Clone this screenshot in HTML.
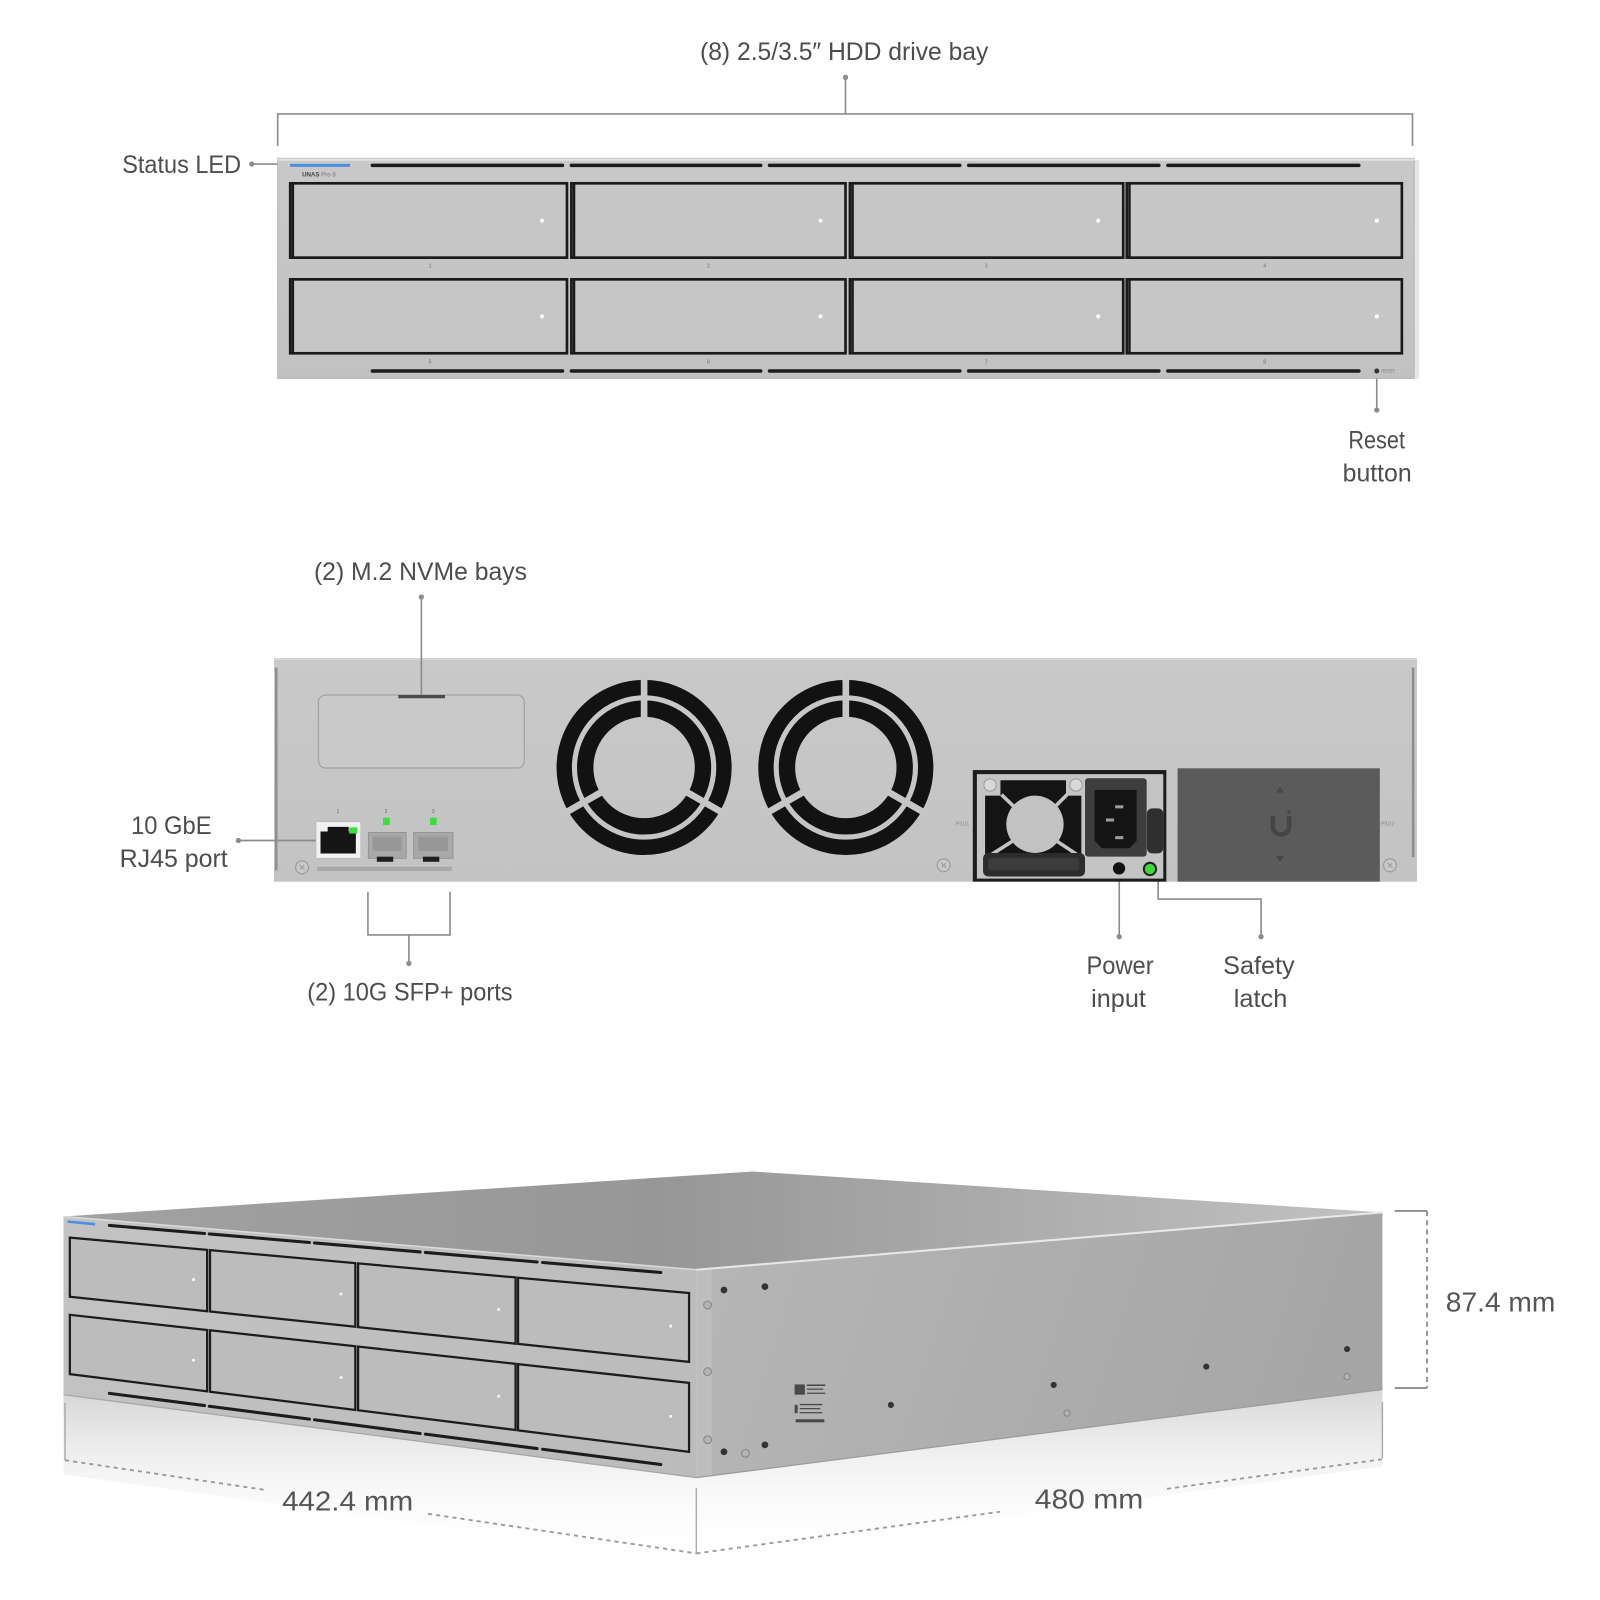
<!DOCTYPE html>
<html><head><meta charset="utf-8"><style>html,body{margin:0;padding:0;background:#fff}svg{display:block}
.l{font-family:"Liberation Sans",sans-serif;font-size:24px;fill:#4d4d4d;text-anchor:middle}
.d{font-family:"Liberation Sans",sans-serif;font-size:27px;fill:#555}
.t{font-family:"Liberation Sans",sans-serif;fill:#6a6a6a;text-anchor:middle}
</style></head><body>
<svg width="1600" height="1600" viewBox="0 0 1562.5 1562.5" xmlns="http://www.w3.org/2000/svg">
<defs>
<linearGradient id="fp" x1="0" y1="0" x2="0" y2="1"><stop offset="0" stop-color="#c9c9c9"/><stop offset="1" stop-color="#c1c1c1"/></linearGradient>
<linearGradient id="rp" x1="0" y1="0" x2="0" y2="1"><stop offset="0" stop-color="#c9c9c9"/><stop offset="1" stop-color="#c3c3c3"/></linearGradient>
<linearGradient id="top3" gradientUnits="userSpaceOnUse" x1="62" y1="1190" x2="1350" y2="1190"><stop offset="0" stop-color="#a2a2a2"/><stop offset="0.45" stop-color="#979797"/><stop offset="1" stop-color="#c2c2c2"/></linearGradient>
<linearGradient id="side3" gradientUnits="userSpaceOnUse" x1="680" y1="1200" x2="1350" y2="1420"><stop offset="0" stop-color="#b6b6b6"/><stop offset="1" stop-color="#a4a4a4"/></linearGradient>
<linearGradient id="front3" gradientUnits="userSpaceOnUse" x1="62" y1="1190" x2="680" y2="1440"><stop offset="0" stop-color="#c3c3c3"/><stop offset="1" stop-color="#bbbbbb"/></linearGradient>
<linearGradient id="refl" x1="0" y1="0" x2="0" y2="1"><stop offset="0" stop-color="#d2d2d2"/><stop offset="1" stop-color="#ffffff" stop-opacity="0"/></linearGradient>
<g id="fan">
 <circle r="78" fill="none" stroke="#121212" stroke-width="15"/>
 <circle r="57.5" fill="none" stroke="#121212" stroke-width="16"/>
 <g stroke="#c6c6c6" stroke-width="6.5">
  <line x1="0" y1="-48" x2="0" y2="-92"/>
  <line x1="41.6" y1="24" x2="80" y2="46"/>
  <line x1="-41.6" y1="24" x2="-80" y2="46"/>
 </g>
</g>
<g id="scr"><circle r="6.3" fill="#c9c9c9" stroke="#9d9d9d" stroke-width="1.2"/><path d="M-2.5,-2.5 L2.5,2.5 M-2,2 L2,-2" stroke="#999" stroke-width="1"/></g>
</defs>

<!-- ============ TOP: FRONT PANEL ============ -->
<text class="l" x="824.4" y="58.5" textLength="281.6" lengthAdjust="spacingAndGlyphs">(8) 2.5/3.5″ HDD drive bay</text>
<g stroke="#8c8c8c" stroke-width="1.6" fill="none">
 <line x1="825.7" y1="75.5" x2="825.7" y2="111.3"/>
 <polyline points="271.2,142.6 271.2,111.3 1379.4,111.3 1379.4,142.6"/>
 <line x1="245.9" y1="160.2" x2="271.2" y2="160.2"/>
 <line x1="1344.5" y1="365" x2="1344.5" y2="400.4"/>
</g>
<g fill="#8c8c8c"><circle cx="825.7" cy="75.5" r="2.6"/><circle cx="245.9" cy="160.2" r="2.6"/><circle cx="1344.5" cy="400.4" r="2.6"/></g>
<text class="l" x="177.4" y="169" textLength="116" lengthAdjust="spacingAndGlyphs">Status LED</text>
<text class="l" x="1344.4" y="437.8" textLength="55.3" lengthAdjust="spacingAndGlyphs">Reset</text>
<text class="l" x="1344.9" y="470.4" textLength="67.4" lengthAdjust="spacingAndGlyphs">button</text>

<rect x="1381" y="156" width="5" height="214" fill="#e6e6e6"/>
<rect x="271.2" y="154.6" width="1109.8" height="214.9" fill="url(#fp)" stroke="#b3b3b3" stroke-width="1"/>
<rect x="271.2" y="154.6" width="1109.8" height="2.5" fill="#dedede"/>
<line x1="283.3" y1="161.5" x2="341.8" y2="161.5" stroke="#4a90e2" stroke-width="3"/>
<text x="295" y="172.5" font-family="Liberation Sans,sans-serif" font-size="6" font-weight="bold" fill="#444">UNAS <tspan font-weight="normal" fill="#777">Pro 8</tspan></text>
<g stroke="#1c1c1c" stroke-width="3.4" stroke-linecap="round">
 <line x1="363.6" y1="161.5" x2="549.3" y2="161.5"/><line x1="558" y1="161.5" x2="742.9" y2="161.5"/><line x1="751.5" y1="161.5" x2="937.3" y2="161.5"/><line x1="946" y1="161.5" x2="1131.7" y2="161.5"/><line x1="1140.5" y1="161.5" x2="1327" y2="161.5"/>
 <line x1="363.6" y1="362.3" x2="549.3" y2="362.3"/><line x1="558" y1="362.3" x2="742.9" y2="362.3"/><line x1="751.5" y1="362.3" x2="937.3" y2="362.3"/><line x1="946" y1="362.3" x2="1131.7" y2="362.3"/><line x1="1140.5" y1="362.3" x2="1327" y2="362.3"/>
</g>
<g fill="#c6c6c6" stroke="#1a1a1a" stroke-width="2.6">
 <rect x="283.4" y="179" width="270.3" height="72.6"/><rect x="558" y="179" width="267.7" height="72.6"/><rect x="830" y="179" width="266.9" height="72.6"/><rect x="1100.4" y="179" width="268.6" height="72.6"/>
 <rect x="283.4" y="272.8" width="270.3" height="72.2"/><rect x="558" y="272.8" width="267.7" height="72.2"/><rect x="830" y="272.8" width="266.9" height="72.2"/><rect x="1100.4" y="272.8" width="268.6" height="72.2"/>
</g>
<g stroke="#1a1a1a" stroke-width="2.4">
 <line x1="286" y1="179" x2="286" y2="251.6"/><line x1="560.6" y1="179" x2="560.6" y2="251.6"/><line x1="832.6" y1="179" x2="832.6" y2="251.6"/><line x1="1103" y1="179" x2="1103" y2="251.6"/>
 <line x1="286" y1="272.8" x2="286" y2="345"/><line x1="560.6" y1="272.8" x2="560.6" y2="345"/><line x1="832.6" y1="272.8" x2="832.6" y2="345"/><line x1="1103" y1="272.8" x2="1103" y2="345"/>
</g>
<g fill="#fff"><circle cx="529.3" cy="215.5" r="2"/><circle cx="801.3" cy="215.5" r="2"/><circle cx="1072.5" cy="215.5" r="2"/><circle cx="1344.6" cy="215.5" r="2"/>
<circle cx="529.3" cy="309" r="2"/><circle cx="801.3" cy="309" r="2"/><circle cx="1072.5" cy="309" r="2"/><circle cx="1344.6" cy="309" r="2"/></g>
<g class="t" font-size="5"><text x="420" y="261">1</text><text x="692" y="261">2</text><text x="963" y="261">3</text><text x="1235" y="261">4</text>
<text x="420" y="355">5</text><text x="692" y="355">6</text><text x="963" y="355">7</text><text x="1235" y="355">8</text></g>
<circle cx="1344.5" cy="362.3" r="2.4" fill="#333"/>
<text x="1349" y="364" font-family="Liberation Sans,sans-serif" font-size="4" fill="#777">RESET</text>

<!-- ============ MIDDLE: REAR PANEL ============ -->
<text class="l" x="410.6" y="566.5" textLength="208" lengthAdjust="spacingAndGlyphs">(2) M.2 NVMe bays</text>
<rect x="267.6" y="642.6" width="1116.2" height="218.4" fill="url(#rp)"/>
<rect x="267.6" y="642.6" width="1116.2" height="2" fill="#d6d6d6"/>
<line x1="269.8" y1="652" x2="269.8" y2="850" stroke="#8d8d8d" stroke-width="2.4"/>
<line x1="1380" y1="652" x2="1380" y2="837" stroke="#8d8d8d" stroke-width="2.4"/>
<rect x="311" y="678.7" width="201" height="71.3" rx="7" fill="#c9c9c9" stroke="#a3a3a3" stroke-width="1.2"/>
<rect x="389" y="678.7" width="45.6" height="3.2" fill="#4a4a4a"/>
<g stroke="#8c8c8c" stroke-width="1.6" fill="none">
 <line x1="411.5" y1="583" x2="411.5" y2="678.7"/>
 <line x1="232.8" y1="820.8" x2="308.6" y2="820.8"/>
 <polyline points="359.3,870.8 359.3,913 439.5,913 439.5,870.8"/>
 <line x1="399.3" y1="913" x2="399.3" y2="940.8"/>
 <line x1="1093" y1="858" x2="1093" y2="914.7"/>
 <polyline points="1131,854.5 1131,878 1231.5,878 1231.5,914.7"/>
</g>
<g fill="#8c8c8c"><circle cx="411.5" cy="583" r="2.6"/><circle cx="232.8" cy="820.8" r="2.6"/><circle cx="399.3" cy="940.8" r="2.6"/><circle cx="1093" cy="914.7" r="2.6"/><circle cx="1231.5" cy="914.7" r="2.6"/></g>

<use href="#fan" x="629" y="749.5"/>
<use href="#fan" x="826" y="749.5"/>

<!-- ports -->
<g class="t" font-size="5"><text x="330" y="794">1</text><text x="377" y="794">2</text><text x="423" y="794">3</text></g>
<rect x="308.6" y="802.4" width="43.7" height="35.8" fill="#f2f2f2" stroke="#bdbdbd" stroke-width="0.8"/>
<path d="M313,833.5 V812 H320 V807.5 H340.5 V812 H347.5 V833.5 Z" fill="#151515"/>
<rect x="341" y="808" width="8" height="6" fill="#39e03c"/>
<rect x="359.7" y="813" width="37" height="25.2" fill="#a8a8a8" stroke="#8f8f8f" stroke-width="0.8"/>
<rect x="404" y="813" width="38.4" height="25.2" fill="#a8a8a8" stroke="#8f8f8f" stroke-width="0.8"/>
<rect x="364" y="817" width="28" height="14" fill="#979797"/><rect x="408.5" y="817" width="29" height="14" fill="#979797"/>
<rect x="368" y="836.6" width="16" height="5" fill="#1e1e1e"/><rect x="413" y="836.6" width="16" height="5" fill="#1e1e1e"/>
<rect x="374" y="798.5" width="6.6" height="7.2" fill="#39e03c"/><rect x="420" y="798.5" width="6.4" height="7.2" fill="#39e03c"/>
<rect x="309.6" y="846.4" width="131.6" height="4.2" fill="#a9a9a9"/>
<use href="#scr" x="295" y="847"/><use href="#scr" x="921.6" y="845"/><use href="#scr" x="1357.4" y="845"/>

<!-- PSU -->
<text x="940" y="806" font-family="Liberation Sans,sans-serif" font-size="5" fill="#888" text-anchor="middle">PSU1</text>
<text x="1355" y="806" font-family="Liberation Sans,sans-serif" font-size="5" fill="#888" text-anchor="middle">PSU2</text>
<rect x="950" y="752" width="189" height="109" fill="#1d1d1d"/>
<rect x="954" y="756" width="182" height="102" fill="#c4c4c4"/>
<rect x="962" y="762" width="94" height="80" rx="9" fill="#141414"/>
<rect x="958" y="758" width="19" height="19" fill="#c4c4c4"/>
<rect x="1041" y="758" width="19" height="19" fill="#c4c4c4"/>
<g stroke="#c4c4c4" stroke-width="3.5"><line x1="1010.7" y1="807.3" x2="978" y2="776"/><line x1="1010.7" y1="807.3" x2="1042" y2="776"/><line x1="1010.7" y1="807.3" x2="966" y2="836"/><line x1="1010.7" y1="807.3" x2="1054" y2="836"/></g>
<circle cx="1010.7" cy="805" r="28" fill="#c2c2c2"/>
<circle cx="966.8" cy="766.6" r="6" fill="#d8d8d8" stroke="#9a9a9a"/><circle cx="1050.8" cy="766.6" r="6" fill="#d8d8d8" stroke="#9a9a9a"/>
<rect x="960" y="833" width="99.6" height="23" rx="5" fill="#2c2c2c"/><rect x="965" y="838" width="89" height="12" rx="3" fill="#3c3c3c"/>
<rect x="1059.6" y="760" width="60.2" height="76.6" rx="3" fill="#3d3d3d"/>
<path d="M1069,771.5 H1110 V821 L1103,828.4 H1076 L1069,821 Z" fill="#141414"/>
<g fill="#9c9c9c"><rect x="1089" y="786.4" width="8" height="3"/><rect x="1080" y="799.3" width="8" height="3"/><rect x="1089" y="816.5" width="8" height="3"/></g>
<rect x="1120" y="789.4" width="16" height="44" rx="5" fill="#2f2f2f"/>
<circle cx="1092.8" cy="848" r="6" fill="#111"/>
<circle cx="1123" cy="848.6" r="7" fill="#222"/><circle cx="1123" cy="848.6" r="5" fill="#3bd93b"/>
<rect x="1150" y="750.3" width="197.5" height="110.7" fill="#5b5b5b"/>
<path d="M1243,797 v10 a8,8 0 0 0 16,0 v-10" stroke="#454545" stroke-width="4.5" fill="none"/>
<circle cx="1259" cy="793" r="1.8" fill="#454545"/>
<path d="M1246,774 L1254,774 L1250,768 Z M1246,836 L1254,836 L1250,842 Z" fill="#474747"/>

<text class="l" x="167.3" y="814.4" textLength="78.6" lengthAdjust="spacingAndGlyphs">10 GbE</text>
<text class="l" x="169.6" y="846.7" textLength="105.6" lengthAdjust="spacingAndGlyphs">RJ45 port</text>
<text class="l" x="400.3" y="977" textLength="200.5" lengthAdjust="spacingAndGlyphs">(2) 10G SFP+ ports</text>
<text class="l" x="1093.8" y="951" textLength="65.6" lengthAdjust="spacingAndGlyphs">Power</text>
<text class="l" x="1092.3" y="983.6" textLength="53.4" lengthAdjust="spacingAndGlyphs">input</text>
<text class="l" x="1229.4" y="951" textLength="69.8" lengthAdjust="spacingAndGlyphs">Safety</text>
<text class="l" x="1231" y="983.6" textLength="52.3" lengthAdjust="spacingAndGlyphs">latch</text>

<!-- ============ BOTTOM: 3D VIEW ============ -->
<polygon points="62,1362 680,1443 680,1525 62,1440" fill="url(#refl)" opacity="0.9"/>
<polygon points="680,1443 1350,1357 1350,1432 680,1522" fill="url(#refl)" opacity="0.9"/>
<polygon points="62,1188 735,1144 1350,1184 680,1240" fill="url(#top3)"/>
<polygon points="680,1240 1350,1184 1350,1357 680,1443" fill="url(#side3)"/>
<polygon points="680,1240 695,1239 695,1441 680,1443" fill="#bebebe"/>
<polygon points="62,1188 680,1240 680,1443 62,1362" fill="url(#front3)"/>
<line x1="62" y1="1188" x2="680" y2="1240" stroke="#dadada" stroke-width="1.5"/>
<line x1="680" y1="1240" x2="1350" y2="1184" stroke="#e8e8e8" stroke-width="2"/>
<line x1="62" y1="1362" x2="680" y2="1443" stroke="#a5a5a5" stroke-width="1.2"/>
<line x1="680" y1="1443" x2="1350" y2="1357" stroke="#9c9c9c" stroke-width="1.2"/>
<line x1="66" y1="1193" x2="93" y2="1195.5" stroke="#4a90e2" stroke-width="2.5"/>
<g stroke="#1c1c1c" stroke-width="3" stroke-linecap="round">
 <line x1="106.8" y1="1196.7" x2="199.7" y2="1204.6"/><line x1="204.3" y1="1205" x2="302.2" y2="1213.4"/><line x1="307.1" y1="1213.8" x2="410.3" y2="1222.6"/><line x1="415.4" y1="1223.1" x2="524.5" y2="1232.4"/><line x1="529.9" y1="1232.9" x2="645.3" y2="1242.7"/>
 <line x1="106.8" y1="1360.7" x2="199.7" y2="1372.6"/><line x1="204.3" y1="1373.3" x2="302.2" y2="1385.9"/><line x1="307.1" y1="1386.5" x2="410.3" y2="1399.9"/><line x1="415.4" y1="1400.5" x2="524.5" y2="1414.6"/><line x1="529.9" y1="1415.3" x2="645.3" y2="1430.2"/>
</g>
<g fill="#bcbcbc" stroke="#1c1c1c" stroke-width="2.2" stroke-linejoin="miter">
 <polygon points="68.2,1208.6 202.3,1220.6 202.3,1280.5 68.2,1266.4"/>
 <polygon points="205.1,1220.8 347,1233.5 347,1295.7 205.1,1280.8"/>
 <polygon points="349.7,1233.8 503.5,1247.5 503.5,1312.2 349.7,1296"/>
 <polygon points="505.9,1247.8 672.9,1262.7 672.9,1330 505.9,1312.4"/>
 <polygon points="68.2,1284 202.3,1298.8 202.3,1358.7 68.2,1341.9"/>
 <polygon points="205.1,1299.1 347,1314.7 347,1376.9 205.1,1359.1"/>
 <polygon points="349.7,1315 503.5,1331.9 503.5,1396.5 349.7,1377.2"/>
 <polygon points="505.9,1332.1 672.9,1350.5 672.9,1417.8 505.9,1396.8"/>
</g>
<g fill="#f4f4f4"><circle cx="189" cy="1249.6" r="1.5"/><circle cx="333" cy="1263.6" r="1.5"/><circle cx="487" cy="1278.7" r="1.5"/><circle cx="655" cy="1295" r="1.5"/>
<circle cx="189" cy="1328.3" r="1.5"/><circle cx="333" cy="1345.2" r="1.5"/><circle cx="487" cy="1363.5" r="1.5"/><circle cx="655" cy="1383.2" r="1.5"/></g>
<!-- side face details -->
<g fill="#333"><circle cx="707" cy="1259.8" r="3.3"/><circle cx="747" cy="1256.5" r="3.3"/><circle cx="707" cy="1417.7" r="3.3"/><circle cx="747" cy="1411" r="3.3"/>
<circle cx="870" cy="1372" r="3"/><circle cx="1029" cy="1352.5" r="3"/><circle cx="1178" cy="1334.6" r="3"/><circle cx="1315.5" cy="1317.5" r="3"/></g>
<g fill="#b3b3b3" stroke="#808080" stroke-width="0.9"><circle cx="691" cy="1274.4" r="3.8"/><circle cx="691" cy="1339.5" r="3.8"/><circle cx="691" cy="1406" r="3.8"/><circle cx="728" cy="1419.3" r="3.8"/><circle cx="1042" cy="1380" r="3"/><circle cx="1315.5" cy="1344.4" r="3"/></g>
<g fill="#4a4a4a"><rect x="776" y="1352" width="10" height="10"/><rect x="788" y="1352" width="18" height="1.5"/><rect x="788" y="1356" width="16" height="1.2"/><rect x="788" y="1360" width="18" height="1.2"/>
<rect x="776" y="1372" width="3" height="8"/><rect x="781" y="1371" width="22" height="1.3"/><rect x="781" y="1375" width="20" height="1.2"/><rect x="781" y="1379" width="22" height="1.2"/>
<rect x="777" y="1386" width="28" height="3"/></g>

<!-- dimensions -->
<g stroke="#8e8e8e" stroke-width="1.8" fill="none">
 <line x1="1362" y1="1182.6" x2="1393.6" y2="1182.6"/><line x1="1362" y1="1355.5" x2="1393.6" y2="1355.5"/>
 <line x1="1393.6" y1="1182.6" x2="1393.6" y2="1355.5" stroke-dasharray="5,4"/>
 <line x1="63.5" y1="1370" x2="63.5" y2="1426" stroke="#aaa" stroke-width="1.4"/>
 <line x1="680" y1="1453" x2="680" y2="1517" stroke="#aaa" stroke-width="1.4"/>
 <line x1="1350" y1="1369" x2="1350" y2="1424" stroke="#aaa" stroke-width="1.4"/>
 <g stroke-dasharray="4,4" stroke="#999">
  <line x1="63.5" y1="1426" x2="259" y2="1455"/><line x1="418" y1="1478.3" x2="680" y2="1517"/>
  <line x1="680" y1="1517" x2="976.6" y2="1476.3"/><line x1="1139.6" y1="1453.9" x2="1350" y2="1425"/>
 </g>
</g>
<text class="d" x="1411.9" y="1281" textLength="107" lengthAdjust="spacingAndGlyphs">87.4 mm</text>
<text class="d" x="339.5" y="1475" text-anchor="middle" textLength="128" lengthAdjust="spacingAndGlyphs">442.4 mm</text>
<text class="d" x="1063.5" y="1473" text-anchor="middle" textLength="106" lengthAdjust="spacingAndGlyphs">480 mm</text>
</svg>
</body></html>
